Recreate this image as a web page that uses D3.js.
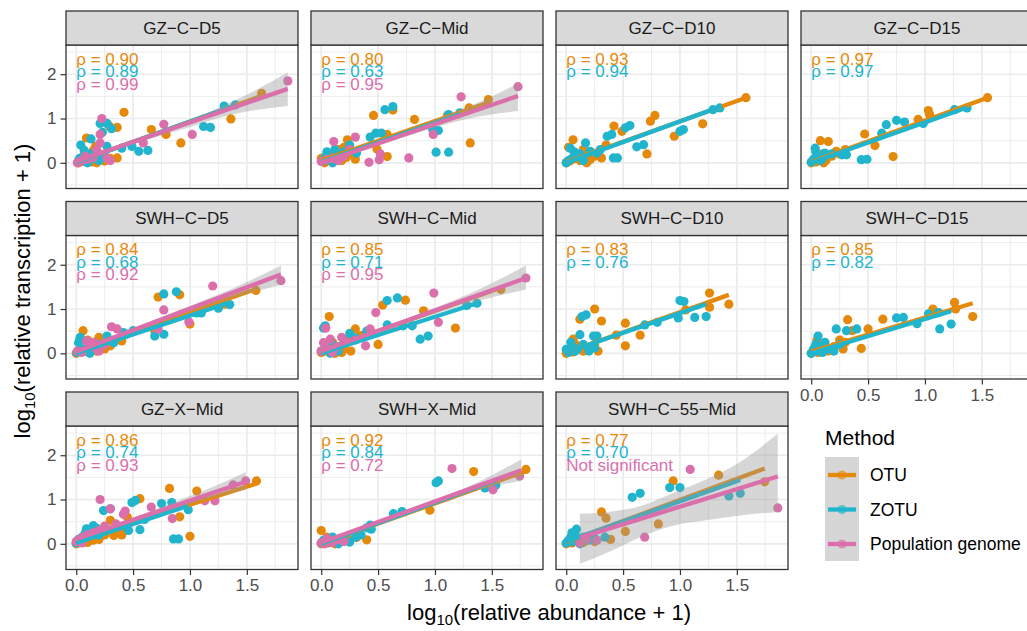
<!DOCTYPE html>
<html>
<head>
<meta charset="utf-8">
<script src="https://cdn.jsdelivr.net/npm/d3@7"></script>
<style>
  body { margin: 0; background: #fff; }
  svg { display: block; font-family: "Liberation Sans", Arial, sans-serif; }
</style>
</head>
<body>
<div id="chart"></div>
<script>
// ---- data ----
const methods = ["OTU", "ZOTU", "Population genome"];
const methodColors = ["#E5890B", "#21B5CD", "#DA6FAB"];
const panelNames = ["GZ-C-D5", "GZ-C-Mid", "GZ-C-D10", "GZ-C-D15",
  "SWH-C-D5", "SWH-C-Mid", "SWH-C-D10", "SWH-C-D15",
  "GZ-X-Mid", "SWH-X-Mid", "SWH-C-55-Mid"];
const rhoOTU  = ["0.90", "0.80", "0.93", "0.97", "0.84", "0.85", "0.83", "0.85", "0.86", "0.92", "0.77"];
const rhoZOTU = ["0.89", "0.63", "0.94", "0.97", "0.68", "0.71", "0.76", "0.82", "0.74", "0.84", "0.70"];
const rhoPG   = ["0.99", "0.95", null, null, "0.92", "0.95", null, null, "0.93", "0.72", "NS"];
const xTicks = [0, 0.5, 1, 1.5];
const yTicks = [0, 1, 2];

// points [log abundance, log transcription]
const otu_GZ_C_D5 = [[1.63,1.57],[1.36,0.99],[0.92,0.45],[0.79,0.64],[0.66,0.75],[0.42,1.14],[0.36,0.80],[0.29,0.83],[0.09,0.56],[0.17,0.37],[0.36,0.11],[0.30,0.10],[0.02,0.0],[0.05,0.03],[0.10,0.05],[0.15,0.28],[0.20,0.20],[0.25,0.04],[0.18,0.0],[0.12,0.15],[0.06,0.10],[0.22,0.08],[0.03,0.02],[0.14,0.02]];
const zotu_GZ_C_D5 = [[1.30,1.28],[1.40,1.31],[1.12,0.82],[1.18,0.80],[0.55,0.26],[0.63,0.28],[0.49,0.37],[0.40,0.33],[0.21,0.89],[0.27,0.89],[0.31,0.77],[0.23,0.69],[0.13,0.54],[0.04,0.40],[0.27,0.37],[0.02,0.05],[0.05,0.12],[0.08,0.03],[0.12,0.20],[0.15,0.10],[0.18,0.25],[0.10,0.0],[0.20,0.05],[0.25,0.15],[0.07,0.28],[0.03,0.10]];
const pg_GZ_C_D5 = [[1.86,1.85],[1.02,0.64],[0.77,0.87],[0.59,0.45],[0.225,1.0],[0.21,0.64],[0.21,0.45],[0.27,0.11],[0.02,0.02],[0.05,0.05],[0.10,0.08],[0.15,0.12],[0.18,0.30],[0.08,0.15],[0.30,0.05],[0.01,0.0]];

const otu_GZ_C_Mid = [[1.47,1.43],[1.30,1.24],[1.11,1.07],[1.31,0.45],[0.82,0.98],[0.63,1.19],[0.46,1.07],[0.58,0.64],[0.23,0.52],[0.49,0.31],[0.58,0.14],[0.30,0.08],[0.0,0.1],[0.03,0.0],[0.08,0.05],[0.12,0.15],[0.15,0.3],[0.2,0.35],[0.25,0.2],[0.18,0.05],[0.06,0.2],[0.22,0.12]];
const zotu_GZ_C_Mid = [[1.12,1.09],[1.22,1.13],[0.98,0.75],[1.03,0.73],[1.01,0.24],[1.12,0.24],[0.56,1.20],[0.63,1.27],[0.48,0.67],[0.53,0.67],[0.43,0.58],[0.31,0.22],[0.02,0.05],[0.05,0.25],[0.08,0.1],[0.1,0.0],[0.15,0.12],[0.2,0.25],[0.25,0.4],[0.04,0.15],[0.12,0.3]];
const pg_GZ_C_Mid = [[1.73,1.72],[1.23,1.49],[0.985,0.64],[0.77,0.11],[0.30,0.58],[0.11,0.48],[0.52,0.20],[0.42,0.01],[0.51,0.07],[0.0,0.03],[0.05,0.08],[0.1,0.1],[0.15,0.05],[0.2,0.15],[0.25,0.3]];

const otu_GZ_C_D10 = [[1.58,1.47],[1.20,0.88],[0.95,0.60],[0.71,0.20],[0.74,0.94],[0.78,1.07],[0.49,0.71],[0.42,0.83],[0.06,0.52],[0.21,0.07],[0.31,0.11],[0.06,0.08],[0.0,0.0],[0.03,0.04],[0.1,0.15],[0.15,0.3],[0.25,0.15],[0.18,0.0],[0.12,0.05],[0.28,0.2],[0.02,0.35],[0.35,0.4]];
const zotu_GZ_C_D10 = [[1.35,1.24],[1.29,1.20],[1.0,0.71],[1.03,0.75],[0.62,0.36],[0.68,0.41],[0.415,0.11],[0.45,0.11],[0.56,0.84],[0.52,0.79],[0.36,0.60],[0.40,0.64],[0.17,0.45],[0.035,0.33],[0.0,0.0],[0.09,0.14],[0.21,0.26],[0.27,0.22],[0.02,0.05],[0.05,0.1],[0.12,0.2],[0.15,0.05],[0.07,0.25],[0.3,0.3]];

const otu_GZ_C_D15 = [[1.55,1.47],[1.03,1.18],[1.04,1.09],[0.94,0.98],[0.72,0.14],[0.47,0.65],[0.56,0.39],[0.08,0.5],[0.15,0.48],[0.22,0.26],[0.11,0.0],[0.0,0.0],[0.03,0.05],[0.06,0.1],[0.1,0.2],[0.18,0.15],[0.04,0.02],[0.13,0.05],[0.3,0.3],[0.25,0.2]];
const zotu_GZ_C_D15 = [[1.37,1.24],[1.26,1.20],[0.985,0.89],[0.75,0.96],[0.82,0.92],[0.66,0.86],[0.62,0.67],[0.44,0.07],[0.49,0.08],[0.27,0.18],[0.31,0.18],[0.035,0.33],[0.05,0.14],[0.0,0.02],[0.02,0.08],[0.08,0.05],[0.12,0.22],[0.18,0.2],[0.1,0.1],[0.04,0.25]];

const otu_SWH_C_D5 = [[1.58,1.42],[1.31,1.11],[1.0,0.66],[0.91,1.32],[0.72,1.27],[0.69,0.51],[0.44,0.43],[0.40,0.28],[0.30,0.17],[0.20,0.36],[0.06,0.51],[0.035,0.05],[0.0,0.0],[0.08,0.1],[0.12,0.02],[0.15,0.2],[0.25,0.1],[0.18,0.05],[0.1,0.3],[0.35,0.3]];
const zotu_SWH_C_D5 = [[1.35,1.10],[1.25,1.02],[1.10,0.91],[1.06,0.91],[0.88,1.39],[0.77,1.34],[0.69,0.39],[0.77,0.43],[0.50,0.51],[0.415,0.47],[0.33,0.24],[0.27,0.39],[0.035,0.36],[0.02,0.24],[0.006,0.02],[0.04,0.1],[0.08,0.05],[0.1,0.15],[0.15,0.1],[0.2,0.2],[0.03,0.3],[0.12,0.0]];
const pg_SWH_C_D5 = [[1.80,1.64],[1.20,1.52],[0.77,0.98],[0.99,0.71],[0.72,0.55],[0.31,0.60],[0.36,0.55],[0.09,0.28],[0.20,0.05],[0.01,0.05],[0.05,0.02],[0.12,0.15],[0.15,0.25],[0.18,0.1],[0.25,0.2]];

const otu_SWH_C_Mid = [[1.58,1.44],[1.18,0.57],[0.90,0.96],[0.74,1.20],[0.54,1.09],[0.50,0.20],[0.30,0.55],[0.26,0.05],[0.07,0.83],[0.0,0.02],[0.03,0.05],[0.08,0.1],[0.12,0.0],[0.15,0.15],[0.2,0.1],[0.1,0.25],[0.25,0.3],[0.35,0.4],[0.45,0.45],[0.18,0.02]];
const zotu_SWH_C_Mid = [[1.37,1.13],[1.28,1.08],[0.67,1.25],[0.58,1.19],[0.87,0.32],[0.94,0.39],[0.80,0.62],[0.72,0.62],[0.58,0.64],[0.25,0.45],[0.035,0.62],[0.02,0.57],[0.0,0.05],[0.05,0.1],[0.1,0.2],[0.15,0.05],[0.2,0.3],[0.3,0.35],[0.4,0.5],[0.08,0.0],[0.12,0.12]];
const pg_SWH_C_Mid = [[1.80,1.70],[0.99,1.36],[0.48,0.92],[1.03,0.70],[0.43,0.55],[0.39,0.17],[0.18,0.36],[0.08,0.32],[0.04,0.57],[0.02,0.24],[0.0,0.05],[0.06,0.1],[0.1,0.02],[0.14,0.15],[0.22,0.25],[0.3,0.3]];

const otu_SWH_C_D10 = [[1.43,1.11],[1.26,1.36],[1.26,1.04],[1.05,0.98],[0.65,0.41],[0.52,0.17],[0.52,0.68],[0.44,0.41],[0.31,0.73],[0.25,1.0],[0.12,0.77],[0.06,0.32],[0.0,0.0],[0.03,0.1],[0.06,0.03],[0.1,0.15],[0.15,0.05],[0.2,0.1],[0.25,0.2],[0.28,0.05],[0.08,0.2]];
const zotu_SWH_C_D10 = [[1.23,0.83],[1.13,0.81],[0.985,0.80],[1.0,1.19],[1.035,1.17],[0.80,0.70],[0.69,0.64],[0.27,0.39],[0.24,0.39],[0.12,0.42],[0.14,0.83],[0.175,0.87],[0.0,0.09],[0.02,0.02],[0.05,0.15],[0.08,0.05],[0.1,0.1],[0.15,0.2],[0.2,0.05],[0.25,0.12],[0.04,0.25]];

const otu_SWH_C_D15 = [[1.42,0.83],[1.26,1.15],[1.27,1.0],[1.07,1.0],[0.63,0.77],[0.50,0.55],[0.44,0.11],[0.32,0.76],[0.36,0.51],[0.25,0.30],[0.05,0.30],[0.0,0.0],[0.02,0.05],[0.06,0.02],[0.1,0.1],[0.15,0.05],[0.2,0.15],[0.28,0.1],[0.08,0.2],[0.3,0.25]];
const zotu_SWH_C_D15 = [[1.23,0.66],[1.13,0.55],[1.12,0.92],[1.03,0.89],[0.93,0.67],[0.81,0.81],[0.75,0.80],[0.40,0.55],[0.31,0.51],[0.22,0.55],[0.06,0.39],[0.0,0.0],[0.02,0.1],[0.05,0.05],[0.08,0.15],[0.12,0.25],[0.15,0.1],[0.2,0.05],[0.25,0.2],[0.1,0.02],[0.04,0.2]];

const otu_GZ_X_Mid = [[1.585,1.42],[1.06,1.19],[0.82,1.25],[0.91,0.61],[1.0,0.17],[0.56,1.02],[0.30,0.53],[0.33,0.19],[0.43,0.30],[0.38,0.25],[0.0,0.0],[0.02,0.02],[0.05,0.05],[0.1,0.03],[0.15,0.08],[0.2,0.1],[0.25,0.2],[0.35,0.35],[0.4,0.2],[0.45,0.6]];
const zotu_GZ_X_Mid = [[0.985,0.77],[0.84,0.93],[0.75,0.91],[0.855,0.11],[0.90,0.11],[0.56,0.32],[0.46,0.30],[0.49,0.93],[0.52,0.98],[0.24,0.75],[0.30,0.79],[0.09,0.34],[0.15,0.41],[0.0,0.02],[0.02,0.1],[0.05,0.15],[0.08,0.25],[0.12,0.3],[0.18,0.35],[0.2,0.2],[0.04,0.05],[0.6,0.55]];
const pg_GZ_X_Mid = [[1.49,1.42],[1.38,1.33],[1.13,0.97],[1.22,0.97],[0.845,0.57],[0.66,0.83],[0.21,1.0],[0.43,0.74],[0.415,0.67],[0.30,0.79],[0.0,0.05],[0.03,0.1],[0.06,0.15],[0.1,0.2],[0.15,0.25],[0.2,0.3],[0.25,0.4],[0.35,0.45],[0.05,0.02]];

const otu_SWH_X_Mid = [[1.80,1.68],[1.34,1.63],[0.955,0.76],[0.40,0.09],[0.31,0.14],[0.0,0.30],[0.0,0.0],[0.03,0.05],[0.06,0.02],[0.1,0.1],[0.15,0.05],[0.2,0.12],[0.25,0.08],[0.12,0.0],[0.05,0.15]];
const zotu_SWH_X_Mid = [[1.01,1.38],[1.03,1.42],[1.44,1.26],[1.535,1.32],[0.71,0.73],[0.635,0.68],[0.43,0.42],[0.40,0.36],[0.44,0.33],[0.25,0.04],[0.0,0.02],[0.02,0.08],[0.05,0.03],[0.08,0.1],[0.12,0.05],[0.15,0.0],[0.2,0.08],[0.3,0.15],[0.35,0.2],[0.1,0.15]];
const pg_SWH_X_Mid = [[1.745,1.53],[1.51,1.22],[1.15,1.70],[0.0,0.02],[0.03,0.0],[0.06,0.05],[0.1,0.03],[0.15,0.1],[0.05,0.12],[0.2,0.05]];

const otu_SWH_C_55_Mid = [[1.745,1.40],[1.34,1.55],[0.94,1.42],[0.31,0.72],[0.35,0.58],[0.81,0.45],[0.52,0.28],[0.39,0.10],[0.06,0.23],[0.0,0.0],[0.02,0.05],[0.05,0.02],[0.1,0.08],[0.15,0.03],[0.2,0.1],[0.08,0.15],[0.25,0.05]];
const zotu_SWH_C_55_Mid = [[0.91,1.27],[1.0,1.27],[0.58,1.05],[0.65,1.14],[1.43,1.08],[1.53,1.14],[0.09,0.33],[0.34,0.15],[0.0,0.02],[0.02,0.08],[0.04,0.15],[0.06,0.05],[0.08,0.2],[0.1,0.1],[0.12,0.0],[0.15,0.15],[0.2,0.08],[0.05,0.25],[0.25,0.12]];
const pg_SWH_C_55_Mid = [[1.09,1.68],[1.86,0.81],[0.69,0.15],[0.27,0.08],[0.12,0.02],[0.18,0.1]];

// fitted lines [x0, y0, x1, y1]
const fitOTU = [[0,0.02,1.63,1.51],[0,0.05,1.47,1.36],[0,0.02,1.58,1.47],[0,0.02,1.55,1.47],[0,0.03,1.58,1.45],[0,0.05,1.58,1.48],[0,0.02,1.43,1.32],[0,0.04,1.42,1.13],[0,0.07,1.585,1.36],[0,0.0,1.80,1.64],[0,0.04,1.745,1.70]];
const fitZOTU = [[0,0.01,1.40,1.30],[0,0.02,1.22,1.10],[0,0.0,1.37,1.28],[0,0.0,1.37,1.25],[0,0.0,1.35,1.15],[0,0.0,1.37,1.13],[0,0.02,1.23,1.11],[0,0.0,1.23,0.95],[0,0.02,0.985,0.86],[0,0.0,1.535,1.43],[0,0.05,1.53,1.44]];
const fitPG = [[0,0.03,1.86,1.67],[0,0.0,1.73,1.51],null,null,[0,0.04,1.80,1.78],[0,0.05,1.80,1.70],null,null,[0,0.11,1.49,1.40],[0,0.03,1.76,1.66],[0.12,0.14,1.86,1.52]];
// confidence band for population genome fits [x, lower, upper]
const bandPG = [
  [[0,-0.05,0.11],[0.4,0.34,0.42],[0.9,0.73,0.87],[1.4,1.11,1.41],[1.86,1.28,2.04]],
  [[0,-0.07,0.07],[0.4,0.31,0.39],[0.9,0.72,0.86],[1.3,1.0,1.27],[1.73,1.17,1.79]],
  null, null,
  [[0,-0.01,0.09],[0.4,0.38,0.46],[0.9,0.85,0.97],[1.4,1.27,1.49],[1.80,1.55,1.98]],
  [[0,-0.02,0.12],[0.4,0.37,0.45],[0.9,0.81,0.93],[1.4,1.2,1.46],[1.80,1.44,1.98]],
  null, null,
  [[0,0.06,0.16],[0.4,0.42,0.5],[0.9,0.82,0.98],[1.2,1.04,1.28],[1.49,1.22,1.62]],
  [[0,-0.02,0.08],[0.4,0.37,0.43],[0.9,0.82,0.90],[1.4,1.24,1.42],[1.76,1.42,1.91]],
  [[0.12,-0.45,0.68],[0.36,-0.2,0.72],[0.65,0.15,0.85],[0.94,0.41,1.15],[1.23,0.53,1.45],[1.53,0.64,1.85],[1.86,0.72,2.49]]
];

const otuPoints = [otu_GZ_C_D5, otu_GZ_C_Mid, otu_GZ_C_D10, otu_GZ_C_D15, otu_SWH_C_D5, otu_SWH_C_Mid, otu_SWH_C_D10, otu_SWH_C_D15, otu_GZ_X_Mid, otu_SWH_X_Mid, otu_SWH_C_55_Mid];
const zotuPoints = [zotu_GZ_C_D5, zotu_GZ_C_Mid, zotu_GZ_C_D10, zotu_GZ_C_D15, zotu_SWH_C_D5, zotu_SWH_C_Mid, zotu_SWH_C_D10, zotu_SWH_C_D15, zotu_GZ_X_Mid, zotu_SWH_X_Mid, zotu_SWH_C_55_Mid];
const pgPoints = [pg_GZ_C_D5, pg_GZ_C_Mid, null, null, pg_SWH_C_D5, pg_SWH_C_Mid, null, null, pg_GZ_X_Mid, pg_SWH_X_Mid, pg_SWH_C_55_Mid];

// ---- layout ----
const W = 1027, H = 631;
const panelW = 232, stripH = 34, panelH = 143.5;
const colX = c => 66 + c * 245;
const rowY = r => 11 + r * 190.5;

const x = d3.scaleLinear().domain([-0.09, 1.95]).range([0, panelW]);
const y = d3.scaleLinear().domain([-0.58, 2.66]).range([panelH, 0]);

const svg = d3.select("#chart").append("svg")
  .attr("width", W).attr("height", H);

const lineGen = d3.line().x(d => x(d[0])).y(d => y(d[1]));
const bandGen = d3.area().x(d => x(d[0])).y0(d => y(d[1])).y1(d => y(d[2])).curve(d3.curveMonotoneX);

panelNames.forEach((name, i) => {
  const r = Math.floor(i / 4), c = i % 4;
  const g = svg.append("g").attr("transform", "translate(" + colX(c) + "," + (rowY(r) + stripH) + ")");

  // strip
  svg.append("rect")
    .attr("x", colX(c)).attr("y", rowY(r)).attr("width", panelW).attr("height", stripH)
    .attr("fill", "#d9d9d9").attr("stroke", "#333333").attr("stroke-width", 1.3);
  svg.append("text")
    .attr("x", colX(c) + panelW / 2).attr("y", rowY(r) + stripH / 2)
    .attr("text-anchor", "middle").attr("dominant-baseline", "central")
    .attr("font-size", 17).attr("fill", "#1a1a1a")
    .text(name.replace(/-/g, "\u2212"));

  g.append("clipPath").attr("id", "clip" + i)
    .append("rect").attr("width", panelW).attr("height", panelH);

  // grid
  const grid = g.append("g");
  [0.25, 0.75, 1.25, 1.75].forEach(v => grid.append("line")
    .attr("x1", x(v)).attr("x2", x(v)).attr("y1", 0).attr("y2", panelH)
    .attr("stroke", "#ebebeb").attr("stroke-width", 0.9));
  [-0.5, 0.5, 1.5, 2.5].forEach(v => grid.append("line")
    .attr("y1", y(v)).attr("y2", y(v)).attr("x1", 0).attr("x2", panelW)
    .attr("stroke", "#ebebeb").attr("stroke-width", 0.9));
  xTicks.forEach(v => grid.append("line")
    .attr("x1", x(v)).attr("x2", x(v)).attr("y1", 0).attr("y2", panelH)
    .attr("stroke", "#ebebeb").attr("stroke-width", 1.7));
  yTicks.forEach(v => grid.append("line")
    .attr("y1", y(v)).attr("y2", y(v)).attr("x1", 0).attr("x2", panelW)
    .attr("stroke", "#ebebeb").attr("stroke-width", 1.7));

  const plot = g.append("g").attr("clip-path", "url(#clip" + i + ")");
  const sets = [otuPoints[i], zotuPoints[i], pgPoints[i]];
  const fits = [fitOTU[i], fitZOTU[i], fitPG[i]];

  // points, drawn by method order
  sets.forEach((pts, m) => {
    if (!pts) return;
    plot.append("g").selectAll("circle").data(pts).enter().append("circle")
      .attr("cx", d => x(d[0])).attr("cy", d => y(d[1])).attr("r", 4.6)
      .attr("fill", methodColors[m]);
  });

  // smooth: band then line per method
  fits.forEach((f, m) => {
    if (!f) return;
    if (m === 2 && bandPG[i]) {
      plot.append("path").datum(bandPG[i]).attr("d", bandGen)
        .attr("fill", "#999999").attr("fill-opacity", 0.4);
    }
    plot.append("path").datum([[f[0], f[1]], [f[2], f[3]]]).attr("d", lineGen)
      .attr("stroke", methodColors[m]).attr("stroke-width", 4.3).attr("fill", "none");
  });

  // rho labels
  const labs = [rhoOTU[i], rhoZOTU[i], rhoPG[i]];
  const labY = [2.34, 2.06, 1.77];
  labs.forEach((t, m) => {
    if (!t) return;
    g.append("text").attr("x", x(0)).attr("y", y(labY[m]))
      .attr("dominant-baseline", "central").attr("font-size", 17)
      .attr("fill", methodColors[m])
      .text(t === "NS" ? "Not significant" : "\u03C1 = " + t);
  });

  // border
  g.append("rect").attr("width", panelW).attr("height", panelH)
    .attr("fill", "none").attr("stroke", "#333333").attr("stroke-width", 1.3);

  // axes
  if (c === 0) {
    const ya = g.append("g").call(d3.axisLeft(y).tickValues(yTicks).tickFormat(d3.format("d")).tickSize(5.5).tickPadding(4));
    ya.select(".domain").remove();
    ya.selectAll("line").attr("stroke", "#333333").attr("stroke-width", 1.2);
    ya.selectAll("text").attr("font-size", 17).attr("fill", "#4d4d4d").attr("font-family", null);
  }
  if (i >= 7) {
    const xa = g.append("g").attr("transform", "translate(0," + panelH + ")")
      .call(d3.axisBottom(x).tickValues(xTicks).tickFormat(d3.format(".1f")).tickSize(5.5).tickPadding(4));
    xa.select(".domain").remove();
    xa.selectAll("line").attr("stroke", "#333333").attr("stroke-width", 1.2);
    xa.selectAll("text").attr("font-size", 17).attr("fill", "#4d4d4d").attr("font-family", null);
  }
});

// axis titles
const yt = svg.append("text")
  .attr("transform", "translate(30,291) rotate(-90)")
  .attr("text-anchor", "middle").attr("font-size", 22).attr("fill", "#000");
yt.append("tspan").text("log");
yt.append("tspan").attr("font-size", 15).attr("dy", 5).text("10");
yt.append("tspan").attr("dy", -5).text("(relative transcription + 1)");

const xt = svg.append("text")
  .attr("x", 549).attr("y", 620)
  .attr("text-anchor", "middle").attr("font-size", 22).attr("fill", "#000");
xt.append("tspan").text("log");
xt.append("tspan").attr("font-size", 15).attr("dy", 5).text("10");
xt.append("tspan").attr("dy", -5).text("(relative abundance + 1)");

// legend
const lg = svg.append("g").attr("transform", "translate(825,0)");
lg.append("text").attr("x", 0).attr("y", 437).attr("dominant-baseline", "central")
  .attr("font-size", 21).attr("fill", "#000").text("Method");
lg.append("rect").attr("x", 0).attr("y", 457).attr("width", 34).attr("height", 104)
  .attr("fill", "#d6d6d6");
methods.forEach((m, k) => {
  const cy = 475 + k * 34.5;
  lg.append("line").attr("x1", 3).attr("x2", 31).attr("y1", cy).attr("y2", cy)
    .attr("stroke", methodColors[k]).attr("stroke-width", 4.3);
  lg.append("circle").attr("cx", 17).attr("cy", cy).attr("r", 4.6)
    .attr("fill", methodColors[k]).attr("opacity", 0.65);
  lg.append("text").attr("x", 45).attr("y", cy).attr("dominant-baseline", "central")
    .attr("font-size", 17.5).attr("fill", "#000").text(m);
});
</script>
</body>
</html>
